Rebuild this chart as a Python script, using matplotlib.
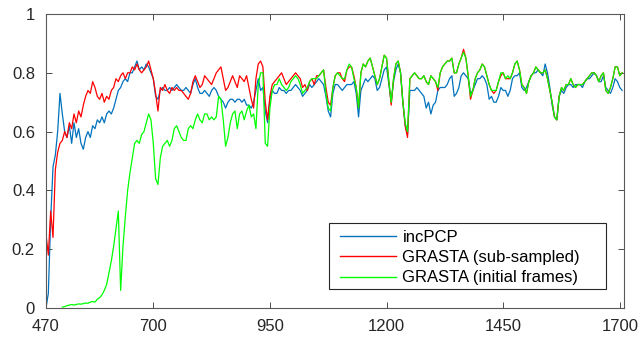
import numpy as np
import matplotlib
matplotlib.use("Agg")
import matplotlib.pyplot as plt
from matplotlib.patches import Rectangle

plt.rcParams['font.family'] = ['Liberation Sans', 'DejaVu Sans']

# frame indices (every 5th frame)
frames = np.arange(470, 1710, 5)
frames_init = np.arange(505, 1710, 5)

# incPCP
incpcp = [
    0.00, 0.05, 0.30, 0.48, 0.52, 0.60, 0.73, 0.66, 0.60, 0.58,
    0.62, 0.56, 0.63, 0.58, 0.61, 0.56, 0.54, 0.58, 0.60, 0.58,
    0.62, 0.61, 0.64, 0.63, 0.65, 0.63, 0.66, 0.67, 0.66, 0.68,
    0.71, 0.74, 0.75, 0.77, 0.78, 0.77, 0.80, 0.80, 0.82, 0.84,
    0.81, 0.82, 0.81, 0.83, 0.82, 0.80, 0.78, 0.72, 0.71, 0.74,
    0.75, 0.74, 0.74, 0.75, 0.74, 0.75, 0.76, 0.75, 0.74, 0.74,
    0.75, 0.74, 0.73, 0.76, 0.78, 0.75, 0.73, 0.73, 0.74, 0.73,
    0.72, 0.74, 0.75, 0.74, 0.72, 0.71, 0.70, 0.68, 0.70, 0.71,
    0.71, 0.70, 0.71, 0.71, 0.70, 0.71, 0.69, 0.69, 0.68, 0.70,
    0.74, 0.78, 0.74, 0.75, 0.67, 0.63, 0.71, 0.74, 0.73, 0.73,
    0.75, 0.74, 0.74, 0.73, 0.74, 0.74, 0.75, 0.76, 0.75, 0.74,
    0.72, 0.73, 0.74, 0.76, 0.75, 0.76, 0.77, 0.78, 0.77, 0.76,
    0.72, 0.67, 0.65, 0.73, 0.76, 0.76, 0.75, 0.74, 0.75, 0.76,
    0.76, 0.76, 0.77, 0.73, 0.65, 0.74, 0.76, 0.78, 0.77, 0.78,
    0.79, 0.78, 0.74, 0.75, 0.78, 0.81, 0.82, 0.76, 0.70, 0.77,
    0.81, 0.83, 0.80, 0.70, 0.62, 0.59, 0.74, 0.74, 0.74, 0.75,
    0.74, 0.73, 0.72, 0.68, 0.70, 0.66, 0.69, 0.70, 0.74, 0.75,
    0.75, 0.75, 0.76, 0.78, 0.79, 0.72, 0.73, 0.75, 0.79, 0.80,
    0.79, 0.78, 0.73, 0.74, 0.76, 0.78, 0.78, 0.79, 0.78, 0.76,
    0.71, 0.72, 0.70, 0.70, 0.72, 0.75, 0.74, 0.74, 0.72, 0.74,
    0.78, 0.79, 0.79, 0.80, 0.75, 0.74, 0.75, 0.77, 0.79, 0.80,
    0.80, 0.81, 0.80, 0.79, 0.83, 0.80, 0.75, 0.69, 0.65, 0.64,
    0.72, 0.74, 0.73, 0.75, 0.76, 0.76, 0.75, 0.76, 0.76, 0.76,
    0.75, 0.77, 0.78, 0.78, 0.79, 0.80, 0.79, 0.77, 0.77, 0.79,
    0.75, 0.74, 0.73, 0.75, 0.78, 0.77, 0.75, 0.74,
]

# GRASTA, sub-sampled
grasta_sub = [
    0.25, 0.18, 0.33, 0.24, 0.47, 0.53, 0.56, 0.57, 0.60, 0.58,
    0.63, 0.61, 0.66, 0.63, 0.67, 0.65, 0.69, 0.72, 0.74, 0.73,
    0.77, 0.75, 0.72, 0.71, 0.73, 0.70, 0.72, 0.71, 0.74, 0.75,
    0.78, 0.77, 0.79, 0.80, 0.78, 0.80, 0.80, 0.82, 0.81, 0.83,
    0.81, 0.80, 0.81, 0.82, 0.84, 0.81, 0.78, 0.73, 0.67, 0.75,
    0.74, 0.76, 0.74, 0.73, 0.75, 0.74, 0.75, 0.74, 0.74, 0.73,
    0.72, 0.71, 0.73, 0.77, 0.79, 0.77, 0.75, 0.76, 0.79, 0.78,
    0.77, 0.76, 0.78, 0.80, 0.81, 0.82, 0.78, 0.74, 0.75, 0.77,
    0.79, 0.77, 0.75, 0.79, 0.78, 0.77, 0.79, 0.75, 0.71, 0.68,
    0.78, 0.83, 0.84, 0.82, 0.70, 0.64, 0.72, 0.76, 0.77, 0.78,
    0.79, 0.80, 0.78, 0.76, 0.77, 0.78, 0.79, 0.80, 0.79, 0.78,
    0.75, 0.76, 0.74, 0.77, 0.78, 0.76, 0.79, 0.79, 0.80, 0.81,
    0.75, 0.70, 0.69, 0.75, 0.79, 0.80, 0.80, 0.78, 0.77, 0.81,
    0.82, 0.82, 0.79, 0.75, 0.68, 0.80, 0.83, 0.82, 0.84, 0.85,
    0.82, 0.79, 0.76, 0.78, 0.82, 0.86, 0.85, 0.77, 0.69, 0.78,
    0.83, 0.84, 0.80, 0.70, 0.62, 0.58, 0.78, 0.79, 0.80, 0.79,
    0.78, 0.78, 0.79, 0.77, 0.76, 0.79, 0.78, 0.77, 0.74, 0.80,
    0.82, 0.83, 0.84, 0.84, 0.85, 0.80, 0.80, 0.83, 0.85, 0.88,
    0.85, 0.79, 0.71, 0.74, 0.78, 0.80, 0.81, 0.83, 0.82, 0.79,
    0.76, 0.74, 0.73, 0.74, 0.77, 0.79, 0.80, 0.78, 0.78, 0.78,
    0.80, 0.83, 0.84, 0.81, 0.76, 0.75, 0.73, 0.77, 0.79, 0.80,
    0.82, 0.81, 0.80, 0.80, 0.81, 0.78, 0.74, 0.70, 0.65, 0.64,
    0.72, 0.75, 0.74, 0.76, 0.76, 0.78, 0.76, 0.75, 0.76, 0.76,
    0.76, 0.77, 0.78, 0.79, 0.80, 0.80, 0.79, 0.77, 0.79, 0.80,
    0.74, 0.73, 0.75, 0.78, 0.82, 0.82, 0.79, 0.80,
]

# GRASTA, trained on the initial frames
grasta_init = [
    0.003, 0.005, 0.008, 0.010, 0.012, 0.010, 0.012, 0.014, 0.013, 0.015,
    0.017, 0.016, 0.020, 0.022, 0.020, 0.030, 0.035, 0.045, 0.060, 0.080,
    0.12, 0.16, 0.21, 0.27, 0.33, 0.06, 0.21, 0.31, 0.40, 0.46,
    0.51, 0.56, 0.57, 0.56, 0.59, 0.60, 0.63, 0.66, 0.64, 0.56,
    0.44, 0.42, 0.51, 0.55, 0.56, 0.57, 0.55, 0.57, 0.61, 0.62,
    0.60, 0.58, 0.57, 0.57, 0.61, 0.62, 0.61, 0.64, 0.66, 0.64,
    0.63, 0.66, 0.66, 0.64, 0.65, 0.64, 0.65, 0.72, 0.71, 0.64,
    0.55, 0.58, 0.63, 0.66, 0.67, 0.61, 0.66, 0.67, 0.64, 0.67,
    0.69, 0.65, 0.66, 0.61, 0.76, 0.80, 0.80, 0.56, 0.55, 0.68,
    0.74, 0.76, 0.76, 0.78, 0.76, 0.75, 0.74, 0.75, 0.77, 0.78,
    0.79, 0.78, 0.76, 0.73, 0.74, 0.75, 0.77, 0.78, 0.78, 0.78,
    0.79, 0.80, 0.81, 0.73, 0.68, 0.67, 0.75, 0.79, 0.80, 0.79,
    0.78, 0.78, 0.81, 0.83, 0.82, 0.78, 0.75, 0.68, 0.80, 0.83,
    0.82, 0.84, 0.85, 0.82, 0.79, 0.76, 0.78, 0.82, 0.86, 0.85,
    0.77, 0.70, 0.78, 0.83, 0.84, 0.80, 0.70, 0.63, 0.60, 0.78,
    0.79, 0.80, 0.79, 0.78, 0.78, 0.79, 0.77, 0.76, 0.79, 0.78,
    0.77, 0.75, 0.80, 0.82, 0.83, 0.84, 0.84, 0.85, 0.80, 0.80,
    0.83, 0.85, 0.87, 0.85, 0.79, 0.72, 0.74, 0.78, 0.80, 0.81,
    0.83, 0.82, 0.79, 0.76, 0.74, 0.74, 0.74, 0.77, 0.80, 0.80,
    0.78, 0.79, 0.78, 0.80, 0.83, 0.84, 0.81, 0.76, 0.75, 0.73,
    0.77, 0.79, 0.80, 0.82, 0.81, 0.80, 0.80, 0.81, 0.78, 0.74,
    0.70, 0.65, 0.64, 0.72, 0.75, 0.74, 0.76, 0.76, 0.78, 0.76,
    0.75, 0.76, 0.76, 0.76, 0.77, 0.78, 0.79, 0.80, 0.80, 0.79,
    0.77, 0.79, 0.80, 0.74, 0.73, 0.75, 0.78, 0.82, 0.82, 0.79,
    0.80,
]

series_labels = ["incPCP", "GRASTA (sub-sampled)", "GRASTA (initial frames)"]
series_colors = ["#0072BD", "#FF0000", "#00FF00"]

xticks = [470, 700, 950, 1200, 1450, 1700]
yticks = [0, 0.2, 0.4, 0.6, 0.8, 1]
ytick_labels = ["0", "0.2", "0.4", "0.6", "0.8", "1"]

W, H = 640, 340
fig = plt.figure(figsize=(W / 100, H / 100), dpi=100)
ax = fig.add_axes([46 / W, 32 / H, 578 / W, 294 / H])

lw = 0.9
ax.plot(frames, incpcp, color=series_colors[0], lw=lw, label=series_labels[0])
ax.plot(frames, grasta_sub, color=series_colors[1], lw=lw, label=series_labels[1])
ax.plot(frames_init, grasta_init, color=series_colors[2], lw=lw, label=series_labels[2])

ax.set_xlim(470, 1709)
ax.set_ylim(0, 1)
ax.set_xticks(xticks)
ax.set_xticklabels([str(t) for t in xticks])
ax.set_yticks(yticks)
ax.set_yticklabels(ytick_labels)

axis_color = "#262626"
for sp in ax.spines.values():
    sp.set_color("0.35")
    sp.set_linewidth(0.8)
ax.tick_params(direction="in", length=4, width=0.7, color="0.3",
               top=True, right=True, labelsize=12, labelcolor=axis_color)
ax.tick_params(axis="x", pad=8)
ax.tick_params(axis="y", pad=8)

# legend box with extra room on the right, as MATLAB draws it
box = Rectangle((329 / W, (H - 289) / H), 277 / W, 66 / H,
                transform=fig.transFigure, facecolor="white",
                edgecolor="0.15", linewidth=0.8, zorder=4, clip_on=False)
ax.add_patch(box)

leg = ax.legend(loc="upper left", bbox_to_anchor=(340 / W, (H - 230) / H),
                bbox_transform=fig.transFigure, fontsize=12, frameon=False,
                handlelength=3.35, handletextpad=0.4, labelspacing=0.31,
                borderpad=0, borderaxespad=0)
leg.set_zorder(5)
for line in leg.get_lines():
    line.set_linewidth(1.0)

fig.savefig("out.png", dpi=100)
